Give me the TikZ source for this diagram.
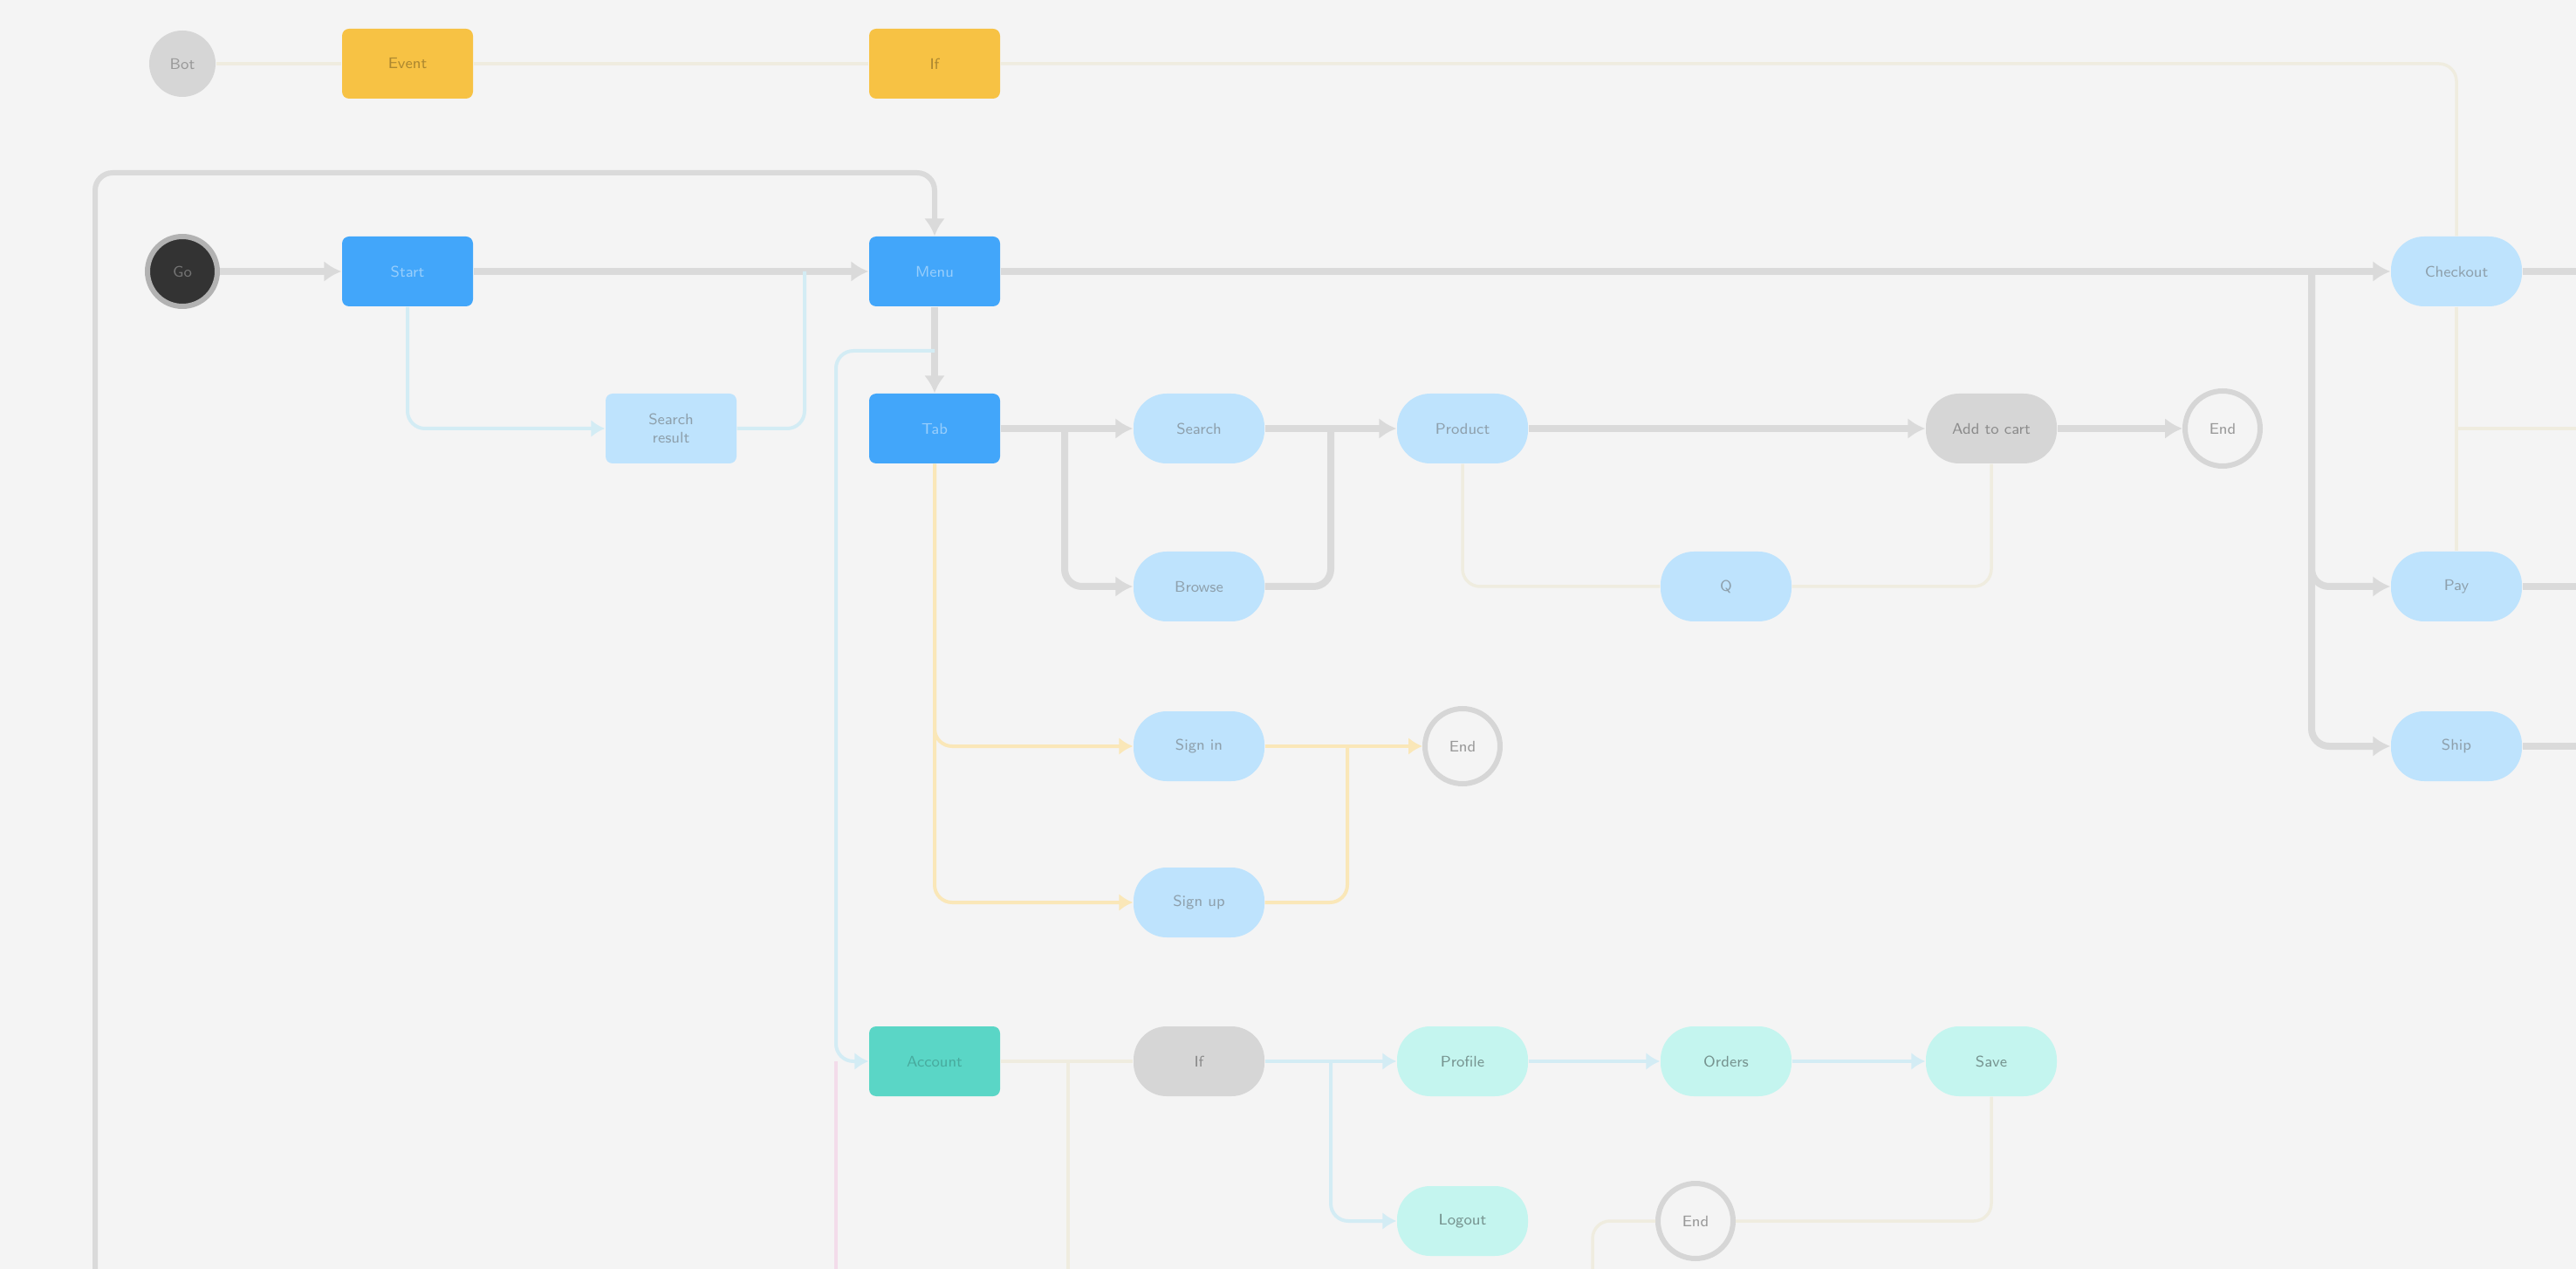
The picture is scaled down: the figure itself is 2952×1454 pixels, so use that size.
\documentclass[tikz,border=0pt]{standalone}
\usepackage{tikz}
\usetikzlibrary{positioning,arrows.meta}
\definecolor{bg}{HTML}{F4F4F4}
\definecolor{flowgrey}{HTML}{DADADA}
\definecolor{ybox}{HTML}{F7C244}
\definecolor{bbox}{HTML}{42A6FA}
\definecolor{lblue}{HTML}{BEE3FD}
\definecolor{gpill}{HTML}{D6D6D6}
\definecolor{tbox}{HTML}{5AD6C6}
\definecolor{lteal}{HTML}{C4F5EF}
\definecolor{lcyan}{HTML}{D3ECF4}
\definecolor{lyel}{HTML}{FAE7B8}
\definecolor{fyel}{HTML}{EFECDF}
\definecolor{lpink}{HTML}{F3DCEA}

\begin{document}
\begin{tikzpicture}[x=0.1mm,y=-0.1mm,font=\sffamily\fontsize{5}{6}\selectfont]
 \tikzset{box/.style={rectangle,rounded corners=0.8mm,minimum width=15mm,minimum height=8mm,inner sep=0pt,align=center},
  pill/.style={box,rounded corners=3.8mm},
  yelbox/.style={box,fill=ybox,text=ybox!70!black},
  bluebox/.style={box,fill=bbox,text=white!45!bbox},
  lbpill/.style={pill,fill=lblue,text=lblue!60!black!80},
  greypill/.style={pill,fill=gpill,text=black!45},
  tealbox/.style={box,fill=tbox,text=tbox!80!black},
  ltpill/.style={pill,fill=lteal,text=lteal!60!black},
  endnode/.style={circle,draw=gpill,line width=0.6mm,fill=bg,minimum size=8.6mm,inner sep=0pt,text=black!40},
  flow/.style={draw=flowgrey,line width=0.8mm,rounded corners=2mm,-{Latex[length=2mm,width=2.4mm]}},
  flowline/.style={draw=flowgrey,line width=0.8mm,rounded corners=2mm},
  cyanflow/.style={draw=lcyan,line width=0.4mm,rounded corners=2mm,-{Latex[length=1.6mm,width=2mm]}},
  cyanline/.style={draw=lcyan,line width=0.4mm,rounded corners=2mm},
  yelflow/.style={draw=lyel,line width=0.4mm,rounded corners=2mm,-{Latex[length=1.6mm,width=2mm]}},
  yelline/.style={draw=lyel,line width=0.4mm,rounded corners=2mm},
  faint/.style={draw=fyel,line width=0.35mm,rounded corners=2mm}}
 \fill[bg] (0,0) rectangle (2952,1454);
 \useasboundingbox (0,0) rectangle (2952,1454);

 % top row
 \node[circle,fill=gpill,minimum size=7.6mm,inner sep=0pt,text=black!40] (ctop) at (209,73) {Bot};
 \node[yelbox] (y1) at (467,73) {Event};
 \node[yelbox] (y2) at (1071,73) {If};

 % main row
 \node[circle,fill=black!80,draw=black!30,line width=0.6mm,minimum size=8mm,inner sep=0pt,text=black!55] (cs) at (209,311) {Go};
 \node[bluebox] (b1) at (467,311) {Start};
 \node[bluebox] (b2) at (1071,311) {Menu};
 \node[box,fill=lblue,text=lblue!60!black!80] (lbx) at (769,491) {Search\\result};
 \node[bluebox] (b3) at (1071,491) {Tab};
 \node[lbpill] (pa) at (1374,491) {Search};
 \node[lbpill] (pb) at (1374,672) {Browse};
 \node[lbpill] (pc) at (1676,491) {Product};
 \node[greypill] (pd) at (2282,491) {Add to cart};
 \node[endnode] (ed) at (2547,491) {End};
 \node[lbpill] (pe) at (1978,672) {Q};
 \node[lbpill] (pf) at (1374,855) {Sign in};
 \node[lbpill] (pg) at (1374,1034) {Sign up};
 \node[endnode] (ef) at (1676,855) {End};

 % teal row
 \node[tealbox] (t1) at (1071,1216) {Account};
 \node[greypill] (ph) at (1374,1216) {If};
 \node[ltpill] (pi) at (1676,1216) {Profile};
 \node[ltpill] (pj) at (1978,1216) {Orders};
 \node[ltpill] (pk) at (2282,1216) {Save};
 \node[ltpill] (pl) at (1676,1399) {Logout};
 \node[endnode] (el) at (1943,1399) {End};

 % right column
 \node[lbpill] (ps) at (2815,311) {Checkout};
 \node[lbpill] (pm) at (2815,672) {Pay};
 \node[lbpill] (pn) at (2815,855) {Ship};

 \coordinate (ft) at (1071,198);
 \coordinate (fb) at (109,1454);
 \coordinate (j1) at (1220,491);
 \coordinate (j2) at (1525,491);
 \coordinate (j3) at (2649,311);
 \coordinate (j4) at (922,311);
 \coordinate (j5) at (1544,855);
 \coordinate (j6) at (1525,1216);
 \coordinate (c1) at (1071,402);
 \coordinate (c2) at (958,1216);
 \coordinate (c3) at (958,1454);
 \coordinate (t2) at (1224,1216);
 \coordinate (t3) at (1224,1454);
 \coordinate (k2) at (1825,1454);
 \coordinate (rs) at (2952,311);
 \coordinate (rm) at (2952,672);
 \coordinate (rn) at (2952,855);
 \coordinate (r1) at (2815,491);
 \coordinate (r2) at (2952,491);

 % faint links
 \draw[faint] (ctop) -- (y1);
 \draw[faint] (y1) -- (y2);
 \draw[faint] (y2) -| (ps);
 \draw[faint] (ps) -- (pm);
 \draw[faint] (r1) -- (r2);
 \draw[faint] (pc) |- (pe);
 \draw[faint] (pe) -| (pd);
 \draw[faint] (t1) -- (ph);
 \draw[faint] (t2) -- (t3);
 \draw[faint] (pk) |- (el);
 \draw[faint] (k2) |- (el);

 % grey flow
 \draw[flow,line width=0.6mm] (fb) |- (ft) -- (b2);
 \draw[flow] (cs) -- (b1);
 \draw[flow] (b1) -- (b2);
 \draw[flow] (b2) -- (ps);
 \draw[flow] (b2) -- (b3);
 \draw[flow] (b3) -- (pa);
 \draw[flow] (j1) |- (pb);
 \draw[flowline] (pb) -| (j2);
 \draw[flow] (pa) -- (pc);
 \draw[flow] (pc) -- (pd);
 \draw[flow] (pd) -- (ed);
 \draw[flow] (j3) |- (pm);
 \draw[flow] (j3) |- (pn);
 \draw[flowline] (ps) -- (rs);
 \draw[flowline] (pm) -- (rm);
 \draw[flowline] (pn) -- (rn);

 % cyan links
 \draw[cyanflow] (b1) |- (lbx);
 \draw[cyanline] (lbx) -| (j4);
 \draw[cyanflow] (c1) -| (c2) -- (t1);
 \draw[lpink,line width=0.4mm] (c2) -- (c3);
 \draw[cyanflow] (ph) -- (pi);
 \draw[cyanflow] (j6) |- (pl);
 \draw[cyanflow] (pi) -- (pj);
 \draw[cyanflow] (pj) -- (pk);

 % yellow links
 \draw[yelflow] (b3) |- (pf);
 \draw[yelflow] (b3) |- (pg);
 \draw[yelflow] (pf) -- (ef);
 \draw[yelline] (pg) -| (j5);
\end{tikzpicture}
\end{document}
